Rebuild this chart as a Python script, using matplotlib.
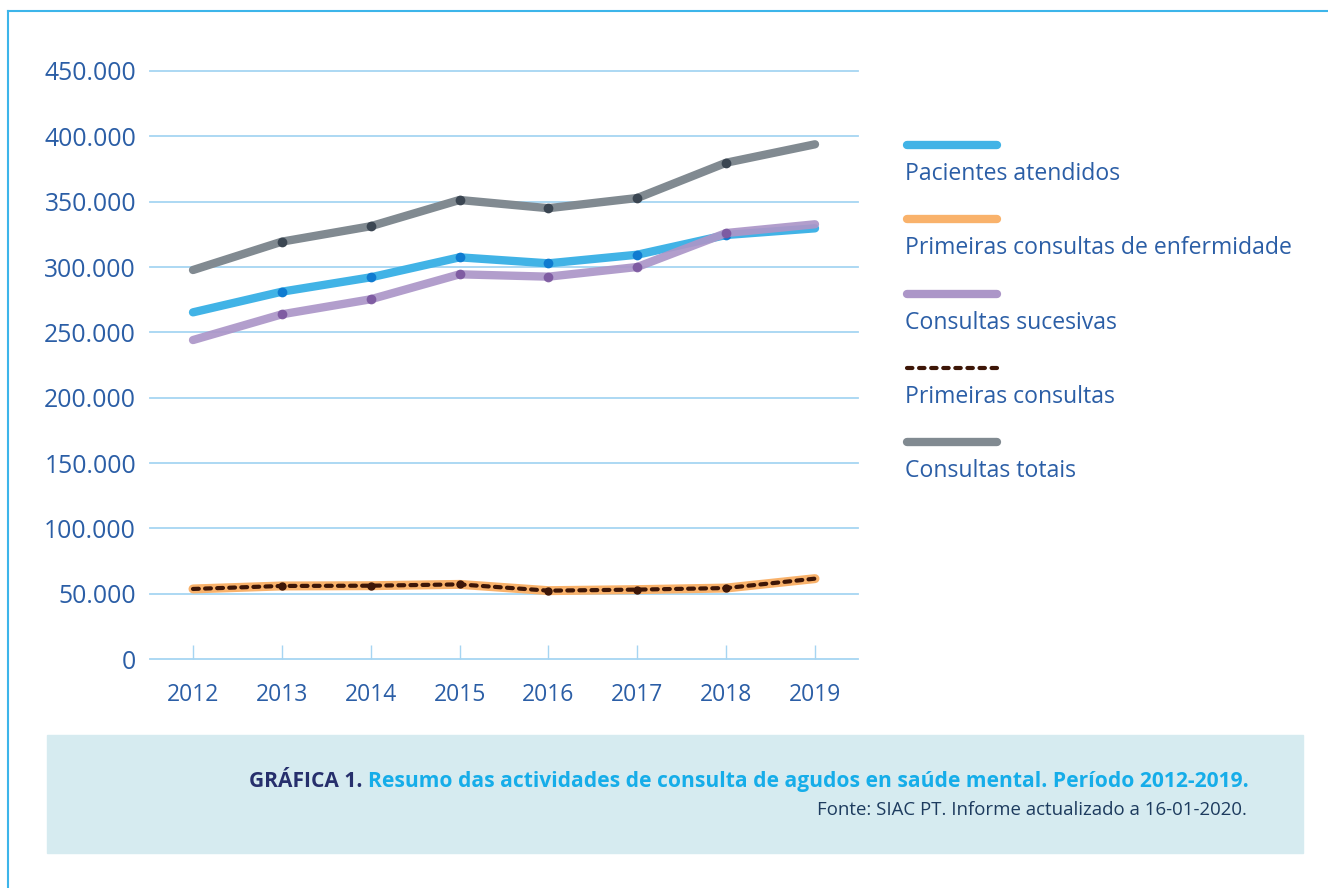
import matplotlib
matplotlib.use('Agg')
import matplotlib.pyplot as plt
from matplotlib.lines import Line2D
from matplotlib.patches import Rectangle

plt.rcParams['font.family'] = ['Open Sans', 'DejaVu Sans']

years = [2012, 2013, 2014, 2015, 2016, 2017, 2018, 2019]
pacientes = [265300, 281100, 292100, 307400, 302800, 309400, 324500, 329600]
primeiras_enf = [53600, 55900, 56100, 57100, 52300, 53100, 54300, 61500]
sucesivas = [244100, 263800, 275300, 294400, 292600, 300000, 326000, 332700]
primeiras = [53600, 55900, 56100, 57100, 52300, 53100, 54300, 61500]
totais = [297700, 319400, 331200, 351300, 345000, 352800, 379800, 393900]

yticks = [0, 50000, 100000, 150000, 200000, 250000, 300000, 350000, 400000, 450000]
ytick_labels = ['0', '50.000', '100.000', '150.000', '200.000', '250.000',
                '300.000', '350.000', '400.000', '450.000']

legend_labels = ['Pacientes atendidos', 'Primeiras consultas de enfermidade',
                 'Consultas sucesivas', 'Primeiras consultas', 'Consultas totais']

txt_col = '#2b5ea6'
grid_col = '#a6d5f2'
c_blue, c_orange, c_purple, c_dot, c_grey = '#41b3e6', '#f9b26b', '#ac96c8', '#3d1607', '#818a91'

W, H = 1328, 888
fig = plt.figure(figsize=(W / 100, H / 100), dpi=100)
ax = fig.add_axes([150 / W, 1 - 659 / H, 708 / W, 588 / H])

for spine in ['top', 'right', 'left']:
    ax.spines[spine].set_visible(False)
ax.spines['bottom'].set_color(grid_col)
ax.spines['bottom'].set_linewidth(1.3)

for t in yticks[1:]:
    ax.axhline(t, color=grid_col, lw=1.3, zorder=1, clip_on=False)

mk = list(range(1, 7))
ax.plot(years, primeiras_enf, color=c_orange, lw=6.5, solid_capstyle='round', zorder=3)
ax.plot(years, primeiras, color=c_dot, lw=3, linestyle=(0, (1.4, 1.5)),
        dash_capstyle='round', marker='o', ms=5, markevery=mk, zorder=4)
ax.plot(years, pacientes, color=c_blue, lw=6, solid_capstyle='round',
        marker='o', ms=7, mfc='#0f7bd0', mec='none', markevery=mk, zorder=3)
ax.plot(years, sucesivas, color=c_purple, lw=6, solid_capstyle='round', alpha=0.92,
        marker='o', ms=7, mfc='#7b579f', mec='none', markevery=mk, zorder=3)
ax.plot(years, totais, color=c_grey, lw=6, solid_capstyle='round',
        marker='o', ms=7, mfc='#3b4652', mec='none', markevery=mk, zorder=3)

ax.set_xlim(2011.516, 2019.484)
ax.set_ylim(0, 450000)
ax.set_xticks(years)
ax.set_xticklabels([str(y) for y in years])
ax.set_yticks(yticks)
ax.set_yticklabels(ytick_labels)
ax.tick_params(axis='x', direction='in', length=10, width=1, color=grid_col,
               labelsize=16.5, labelcolor=txt_col, pad=17)
ax.tick_params(axis='y', length=0, labelsize=17.8, labelcolor=txt_col, pad=10)

# legend drawn by hand
styles = [
    dict(color=c_blue, lw=6, solid_capstyle='round'),
    dict(color=c_orange, lw=6, solid_capstyle='round'),
    dict(color=c_purple, lw=6, solid_capstyle='round'),
    dict(color=c_dot, lw=3, linestyle=(0, (1.3, 1.6)), dash_capstyle='round'),
    dict(color=c_grey, lw=6, solid_capstyle='round'),
]
for i, (lab, st) in enumerate(zip(legend_labels, styles)):
    ly = 145 + 74.3 * i
    fig.add_artist(Line2D([907 / W, 997 / W], [1 - ly / H, 1 - ly / H], **st))
    fig.text(905 / W, 1 - (ly + 35) / H, lab, fontsize=16.6, color=txt_col,
             ha='left', va='baseline')

# frame lines
fig.add_artist(Line2D([8 / W, 1], [1 - 11 / H, 1 - 11 / H], color='#3db5ea', lw=1.5))
fig.add_artist(Line2D([8 / W, 8 / W], [0, 1 - 11 / H], color='#3db5ea', lw=1.5))

# caption box
fig.add_artist(Rectangle((47 / W, 1 - 853 / H), 1256 / W, 118 / H,
                         transform=fig.transFigure, color='#d6ebf0', zorder=0))
cap = fig.text(1249 / W, 1 - 787 / H,
               'Resumo das actividades de consulta de agudos en saúde mental. Período 2012-2019.',
               fontsize=15.1, fontweight='bold', color='#16ade9', ha='right', va='baseline')
ax.annotate('GRÁFICA 1. ', xy=(0, 0), xycoords=cap, xytext=(0, 0), textcoords='offset points',
            fontsize=15.1, fontweight='bold', color='#262f6c', ha='right', va='bottom',
            annotation_clip=False)
fig.text(1247 / W, 1 - 815 / H, 'Fonte: SIAC PT. Informe actualizado a 16-01-2020.',
         fontsize=13.4, color='#1d3b5e', ha='right', va='baseline')

fig.savefig('out.png', dpi=100)
